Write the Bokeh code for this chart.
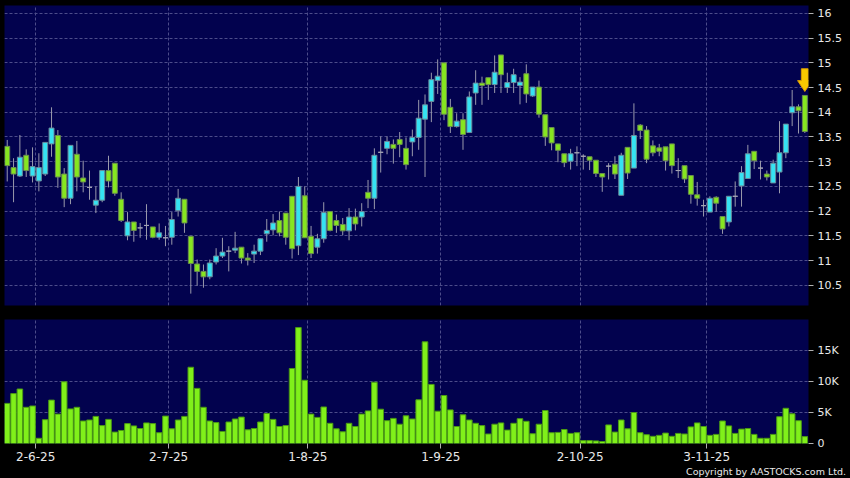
import pandas as pd
from bokeh.plotting import figure
from bokeh.layouts import column
from bokeh.models import (ColumnDataSource, Range1d, FixedTicker, Div,
                          GlobalInlineStyleSheet)
from bokeh.embed import file_html
from bokeh.resources import INLINE

# ---------------- data ----------------
holidays = ["2025-07-01", "2025-10-01", "2025-10-07", "2025-10-29"]
dates = [d for d in pd.bdate_range("2025-05-26", "2025-11-24")
         if d.strftime("%Y-%m-%d") not in holidays]

opens = [13.31, 12.88, 12.71, 13.13, 12.71, 12.61, 12.75, 13.36, 13.53, 12.75,
         12.26, 13.15, 12.67, 12.48, 12.12, 12.22, 12.82, 12.97, 12.24, 11.50,
         11.78, 11.66, 11.71, 11.68, 11.47, 11.46, 11.47, 12.01, 12.24, 11.49,
         10.93, 10.78, 10.67, 10.97, 11.09, 11.19, 11.21, 11.27, 11.05, 11.13,
         11.19, 11.54, 11.62, 11.81, 11.96, 12.30, 11.30, 12.31, 11.49, 11.27,
         11.44, 11.99, 11.81, 11.73, 11.60, 11.88, 11.88, 12.38, 12.26, 13.19,
         13.27, 13.35, 13.45, 13.27, 13.40, 13.49, 13.86, 14.22, 14.64, 15.00,
         14.10, 13.71, 13.85, 13.59, 14.39, 14.59, 14.70, 14.56, 15.16, 14.50,
         14.60, 14.54, 14.78, 14.33, 14.51, 13.95, 13.69, 13.36, 13.16, 13.01,
         13.18, 13.11, 13.10, 13.03, 12.76, 12.91, 12.95, 12.32, 13.29, 12.87,
         13.74, 13.64, 13.32, 13.28, 13.30, 13.36, 12.82, 12.92, 12.72, 12.33,
         12.11, 11.98, 12.28, 11.89, 11.78, 12.30, 12.51, 12.66, 13.21, 12.87,
         12.75, 12.57, 12.79, 13.18, 13.99, 14.11, 14.34]
highs = [13.44, 13.07, 13.54, 13.25, 13.29, 13.17, 13.39, 14.10, 13.64, 12.87,
         13.33, 13.42, 13.02, 12.82, 12.50, 12.82, 13.12, 12.97, 12.38, 11.98,
         11.78, 11.76, 12.14, 11.68, 11.75, 11.70, 11.98, 12.45, 12.24, 11.49,
         11.02, 10.92, 11.02, 11.25, 11.46, 11.29, 11.58, 11.27, 11.15, 11.32,
         11.44, 11.84, 11.94, 11.99, 11.96, 12.30, 12.69, 12.50, 11.70, 11.54,
         12.18, 11.99, 11.93, 11.86, 12.06, 12.05, 12.16, 12.63, 13.27, 13.51,
         13.51, 13.45, 13.60, 13.49, 13.65, 14.25, 14.36, 14.80, 15.07, 15.00,
         14.27, 13.98, 13.98, 14.42, 14.85, 14.72, 14.70, 15.15, 15.16, 14.80,
         14.88, 14.71, 14.97, 14.51, 14.64, 13.95, 13.69, 13.36, 13.16, 13.26,
         13.31, 13.15, 13.10, 13.03, 12.76, 12.97, 13.11, 13.18, 13.29, 14.18,
         13.76, 13.72, 13.43, 13.36, 13.30, 13.36, 13.07, 12.92, 12.72, 12.59,
         12.23, 12.30, 12.30, 11.89, 12.30, 12.60, 12.91, 13.34, 13.21, 13.02,
         12.82, 13.04, 13.82, 13.76, 14.45, 14.16, 14.34]
lows = [12.60, 12.18, 12.69, 12.69, 12.58, 12.40, 12.71, 13.10, 12.47, 12.08,
        12.14, 12.40, 12.38, 12.23, 11.96, 12.18, 12.48, 12.31, 11.78, 11.41,
        11.38, 11.46, 11.42, 11.45, 11.42, 11.29, 11.32, 11.89, 11.56, 10.33,
        10.49, 10.45, 10.62, 10.92, 11.05, 10.78, 11.15, 10.94, 10.90, 10.95,
        11.11, 11.38, 11.51, 11.49, 11.32, 11.04, 11.11, 11.46, 11.05, 11.14,
        11.36, 11.59, 11.56, 11.51, 11.41, 11.61, 11.69, 12.06, 12.04, 12.78,
        13.15, 12.96, 13.09, 12.84, 13.11, 13.24, 12.69, 13.80, 14.37, 13.84,
        13.58, 13.69, 13.24, 13.59, 14.15, 14.15, 14.25, 14.39, 14.39, 14.39,
        14.39, 14.16, 14.19, 14.31, 13.89, 13.32, 13.23, 12.99, 12.89, 12.84,
        12.91, 12.84, 12.83, 12.69, 12.39, 12.64, 12.65, 12.32, 12.65, 12.87,
        13.46, 12.97, 13.11, 13.11, 12.82, 12.76, 12.67, 12.57, 12.15, 12.11,
        11.89, 11.98, 11.99, 11.54, 11.69, 12.09, 12.09, 12.66, 12.85, 12.64,
        12.62, 12.57, 12.36, 13.07, 13.72, 13.57, 13.58]
closes = [12.92, 12.75, 13.09, 12.82, 12.90, 12.88, 13.39, 13.68, 12.69, 12.26,
          13.33, 12.69, 12.59, 12.48, 12.22, 12.82, 12.61, 12.36, 11.81, 11.78,
          11.61, 11.66, 11.71, 11.47, 11.56, 11.46, 11.83, 12.26, 11.76, 10.94,
          10.78, 10.67, 10.95, 11.09, 11.17, 11.19, 11.25, 11.05, 11.01, 11.19,
          11.44, 11.61, 11.76, 11.56, 11.47, 11.24, 12.50, 11.46, 11.14, 11.44,
          11.97, 11.61, 11.71, 11.60, 11.88, 11.74, 11.99, 12.26, 13.13, 13.19,
          13.41, 13.27, 13.35, 12.94, 13.49, 13.88, 14.15, 14.66, 14.73, 13.96,
          13.71, 13.82, 13.55, 14.31, 14.59, 14.54, 14.56, 14.81, 14.76, 14.60,
          14.76, 14.61, 14.37, 14.51, 13.96, 13.50, 13.38, 13.23, 12.98, 13.16,
          13.18, 13.11, 13.03, 12.76, 12.69, 12.91, 12.75, 13.13, 12.77, 13.53,
          13.63, 13.05, 13.18, 13.21, 13.02, 12.92, 12.82, 12.65, 12.34, 12.26,
          12.11, 12.26, 12.16, 11.64, 12.30, 12.30, 12.78, 13.16, 13.02, 12.87,
          12.69, 12.97, 13.18, 13.76, 14.11, 14.03, 13.61]
volumes = [6470, 8050, 8790, 5840, 6050, 840, 3840, 7000, 4740, 9950,
           5580, 5840, 3630, 3790, 4370, 2890, 3890, 1840, 2100, 3210,
           2840, 2420, 3320, 3210, 1740, 4420, 2370, 3790, 4370, 12300,
           8890, 5840, 3630, 3370, 1950, 3470, 3950, 4260, 2210, 2420,
           3470, 4840, 3890, 2740, 2890, 12100, 18700, 10200, 4740, 4210,
           5890, 3260, 2370, 1890, 3260, 2740, 4740, 5260, 9890, 5530,
           3680, 4050, 3110, 4470, 3950, 7050, 16400, 9530, 5210, 7740,
           5420, 2740, 4630, 3790, 3260, 2890, 1530, 3110, 3320, 2160,
           3260, 4000, 3580, 1580, 3110, 5320, 1740, 1790, 2260, 1630,
           1740, 470, 470, 420, 320, 3000, 1840, 3790, 2370, 5000,
           1740, 1420, 1160, 1320, 1680, 1160, 1630, 1530, 2680, 3320,
           2740, 1320, 1470, 3630, 2840, 1630, 2320, 2420, 1470, 840,
           840, 1470, 4320, 5680, 4790, 3680, 1110]

tick_dates = ["2025-06-02", "2025-07-02", "2025-08-01", "2025-09-01", "2025-10-02", "2025-11-03"]
tick_labels = ["2-6-25", "2-7-25", "1-8-25", "1-9-25", "2-10-25", "3-11-25"]
price_ticks = [10.5, 11.0, 11.5, 12.0, 12.5, 13.0, 13.5, 14.0, 14.5, 15.0, 15.5, 16.0]
price_tick_labels = ["10.5", "11", "11.5", "12", "12.5", "13", "13.5", "14", "14.5", "15", "15.5", "16"]
vol_ticks = [0, 5000, 10000, 15000]
vol_tick_labels = ["0", "5K", "10K", "15K"]
copyright_text = "Copyright by AASTOCKS.com Ltd."

# ---------------- styles ----------------
NAVY = "#02024e"
GRID = "#4c4c8a"
CYAN, CYAN_LINE = "#35e2f2", "#6a8c9c"
GREEN, GREEN_LINE = "#86e620", "#6a8c50"
DOJI = "#a4a4b4"
WICK = "#9a9aac"
VOL_FILL, VOL_LINE = "#80f01a", "#4a9a14"
TXT = "#e8e8e8"
FONT = "DejaVu Sans"
W = 850

date_strs = [d.strftime("%Y-%m-%d") for d in dates]
xs = [i + 0.5 for i in range(len(dates))]
tick_pos = [date_strs.index(t) for t in tick_dates]

fills, lines_c, tops, bottoms = [], [], [], []
for o, c in zip(opens, closes):
    if c > o:
        fills.append(CYAN); lines_c.append(CYAN_LINE)
    elif c < o:
        fills.append(GREEN); lines_c.append(GREEN_LINE)
    else:
        fills.append(DOJI); lines_c.append(DOJI)
    tops.append(max(o, c)); bottoms.append(min(o, c))

src = ColumnDataSource(dict(x=xs, o=opens, h=highs, l=lows, c=closes,
                            top=tops, bottom=bottoms, fill=fills, line=lines_c,
                            vol=volumes))

x_range = Range1d(0.07, 127.08)


def style_right_axis(ax, ticks, labels):
    ax.ticker = FixedTicker(ticks=ticks)
    ax.major_label_overrides = {t: s for t, s in zip(ticks, labels)}
    ax.axis_line_color = None
    ax.major_tick_in = 0
    ax.major_tick_out = 5
    ax.major_tick_line_color = "#b0b0b0"
    ax.minor_tick_line_color = None
    ax.major_label_standoff = 4
    ax.major_label_text_color = TXT
    ax.major_label_text_font = FONT
    ax.major_label_text_font_size = "11px"


# ---------------- price panel ----------------
p = figure(width=W, height=319, x_range=x_range, y_range=Range1d(10.09, 16.16),
           output_backend="svg", toolbar_location=None,
           x_axis_location=None, y_axis_location="right",
           min_border_left=4, min_border_top=5, min_border_bottom=14, min_border_right=42,
           background_fill_color=NAVY, border_fill_color="black", outline_line_color=None)
style_right_axis(p.yaxis[0], price_ticks, price_tick_labels)
p.ygrid.ticker = FixedTicker(ticks=price_ticks)
p.xgrid.ticker = FixedTicker(ticks=tick_pos)
for g in (p.xgrid, p.ygrid):
    g.grid_line_color = GRID
    g.grid_line_dash = "3 2"

p.segment(x0="x", y0="h", x1="x", y1="l", source=src, line_color=WICK, line_width=1)
p.vbar(x="x", width=0.78, top="top", bottom="bottom", source=src,
       fill_color="fill", line_color="line", line_width=1)

# arrow marker above the latest candle
xa, ya = xs[-1], highs[-1]
p.patch(x=[xa - 0.55, xa + 0.55, xa + 0.55, xa + 1.15, xa, xa - 1.15, xa - 0.55],
        y=[ya + 0.54, ya + 0.54, ya + 0.30, ya + 0.30, ya + 0.08, ya + 0.30, ya + 0.30],
        fill_color="#f8c800", line_color="#d99a00", line_width=1)

# ---------------- volume panel ----------------
v = figure(width=W, height=147, x_range=x_range, y_range=Range1d(0, 20000),
           output_backend="svg", toolbar_location=None, y_axis_location="right",
           min_border_left=4, min_border_top=0, min_border_bottom=23, min_border_right=42,
           background_fill_color=NAVY, border_fill_color="black", outline_line_color=None)
style_right_axis(v.yaxis[0], vol_ticks, vol_tick_labels)
v.ygrid.ticker = FixedTicker(ticks=vol_ticks)
xa_ = v.xaxis[0]
xa_.ticker = FixedTicker(ticks=tick_pos)
xa_.major_label_overrides = {t: s for t, s in zip(tick_pos, tick_labels)}
xa_.axis_line_color = None
xa_.major_tick_in = 0
xa_.major_tick_out = 5
xa_.major_tick_line_color = "#b0b0b0"
xa_.minor_tick_line_color = None
xa_.major_label_standoff = 3
xa_.major_label_text_color = TXT
xa_.major_label_text_font = FONT
xa_.major_label_text_font_size = "12px"
for g in (v.xgrid, v.ygrid):
    g.grid_line_color = GRID
    g.grid_line_dash = "3 2"

v.vbar(x="x", width=0.88, top="vol", bottom=0, source=src,
       fill_color=VOL_FILL, line_color=VOL_LINE, line_width=1)

foot = Div(text=copyright_text, width=W, height=12, margin=(0, 0, 0, 0),
           styles={"color": TXT, "font-family": FONT, "font-size": "9.5px",
                   "line-height": "12px", "text-align": "right",
                   "padding-right": "4px", "background": "#000000",
                   "box-sizing": "border-box", "width": f"{W}px"})

layout = column(p, v, foot, spacing=0,
                stylesheets=[GlobalInlineStyleSheet(css="body{background:#000000;}")])

open("out.html", "w").write(file_html(layout, INLINE))
